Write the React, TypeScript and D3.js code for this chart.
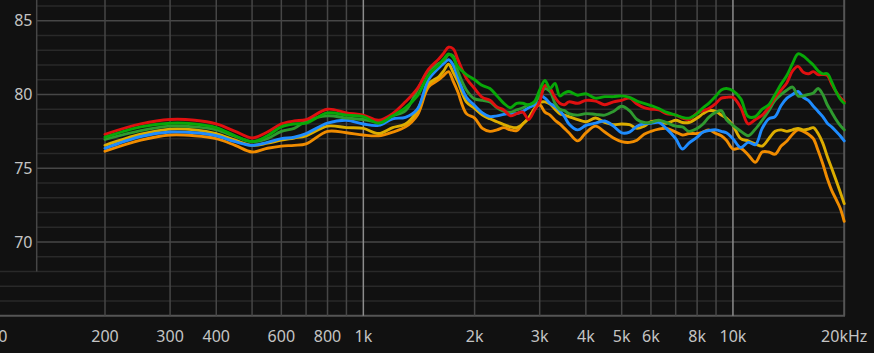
import React from "react";
import * as d3 from "d3";

const FREQS = [
  200, 250, 300, 350, 400, 450, 500, 550, 600, 650, 700, 800, 900, 1000,
  1100, 1200, 1300, 1400, 1500, 1600, 1650, 1700, 1750, 1800, 1900, 2000,
  2100, 2200, 2300, 2400, 2500, 2600, 2700, 2800, 2900, 3000, 3100, 3200, 3300, 3400, 3500, 3600, 3800, 4000,
  4250, 4500, 4750, 5000, 5250, 5500, 5750, 6000, 6300, 6600, 7000, 7300, 7600, 8000, 8300, 8600, 9000, 9300, 9600, 10000,
  10500, 11000, 11500, 12000, 12500, 13000, 13500, 14000, 14500, 15000, 15500, 16000, 16500, 17000, 17500, 18000, 18500, 19000, 19500, 20000,
];

const RED = [
  77.3, 78.0, 78.3, 78.25, 78.0, 77.5, 77.05, 77.45, 78.0, 78.2, 78.3, 79.0, 78.75, 78.6,
  78.25, 78.7, 79.5, 80.4, 81.7, 82.4, 82.8, 83.2, 83.1, 82.4, 81.1, 80.4,
  79.8, 79.6, 79.15, 78.95, 78.55, 78.7, 78.8, 78.3, 78.9, 79.5, 80.6, 80.4, 79.8, 79.4, 79.3, 79.5, 79.4, 79.6,
  79.55, 79.3, 79.5, 79.6, 79.75, 79.35, 79.1, 79.0, 78.95, 78.7, 78.6, 78.4, 78.3, 78.75, 78.9, 79.05, 79.4, 79.75, 79.8, 79.8,
  79.1, 78.0, 78.3, 78.6, 79.1, 79.8, 80.3, 80.8, 81.6, 81.9, 81.5, 81.4, 81.55, 81.35, 81.35, 81.3, 80.7, 80.2, 79.8, 79.5,
];

const GREEN = [
  77.1, 77.8, 78.05, 78.0, 77.75, 77.2, 76.8, 77.2, 77.8, 78.0, 78.05, 78.75, 78.6, 78.5,
  78.05, 78.55, 79.1, 79.9, 81.3, 82.0, 82.4, 82.75, 82.5, 81.9, 81.35, 81.0,
  80.6, 80.4, 79.9, 79.4, 79.1, 79.4, 79.4, 79.3, 79.5, 80.3, 80.95, 80.4, 80.75, 79.9, 80.1, 80.2, 79.95, 80.05,
  79.75, 79.85, 79.85, 79.9, 79.8, 79.55, 79.4, 79.25, 79.05, 78.8, 78.6, 78.45, 78.4, 78.7, 79.1, 79.4, 79.9, 80.3, 80.4, 80.25,
  79.7, 78.5, 78.5, 79.0, 79.3, 80.0, 80.7, 81.3, 82.1, 82.75, 82.6, 82.3, 82.0, 81.6, 81.4, 81.4, 80.85, 80.2, 79.7, 79.4,
];

const DARK_GREEN = [
  76.95, 77.55, 77.85, 77.8, 77.6, 77.15, 76.8, 77.0, 77.5, 77.7, 78.2, 78.55, 78.4, 78.3,
  78.15, 78.55, 78.9, 80.3, 81.6, 82.1, 82.3, 82.7, 82.6, 81.6, 80.3, 79.7,
  79.6, 79.5, 79.1, 78.85, 78.8, 78.95, 79.1, 79.3, 79.45, 79.9, 80.4, 80.2, 79.4, 79.0, 78.9, 78.7, 78.6, 78.7,
  78.65, 78.6, 78.85, 79.2, 78.9, 78.3, 78.1, 78.1, 78.25, 78.1, 77.85, 77.8, 77.5, 77.7, 78.0, 78.45, 78.8, 78.9, 78.3, 77.9,
  77.5, 77.2, 77.65, 78.25, 78.9, 79.6, 80.0, 80.3, 80.5, 79.9, 79.9, 80.0, 80.1, 80.4, 80.0, 79.3, 78.8, 78.3, 77.9, 77.6,
];

const BLUE = [
  76.35, 77.15, 77.45, 77.4, 77.2, 76.8, 76.55, 76.75, 77.0, 77.1, 77.35, 78.05, 78.25, 78.0,
  77.9, 78.35, 78.45, 79.0, 81.0, 81.8, 82.1, 82.35, 82.0, 81.2, 79.8, 79.25,
  78.75, 78.5, 78.55, 78.65, 78.7, 78.7, 78.85, 79.1, 79.3, 79.95, 79.75, 79.4, 79.2, 78.9, 78.5, 78.0, 77.6, 77.9,
  78.05, 78.2, 77.85, 77.4, 77.45, 77.85, 78.0, 78.05, 78.1, 77.7, 77.0, 76.3, 76.7, 77.1, 77.45, 77.55, 77.6, 77.5, 77.4, 77.0,
  76.4, 76.75, 76.6, 77.7, 78.35, 78.5, 79.25, 79.75, 80.0, 80.2, 79.8, 79.6, 79.2, 78.85, 78.5, 78.05, 77.8, 77.5, 77.2, 76.85,
];

const YELLOW = [
  76.55, 77.3, 77.65, 77.6, 77.35, 76.9, 76.55, 76.7, 76.9, 77.05, 77.2, 77.85, 77.75, 77.7,
  77.35, 77.75, 78.0, 78.9, 80.7, 81.2, 81.6, 82.05, 81.5, 80.9, 79.5, 79.05,
  78.6, 78.35, 78.15, 77.95, 77.8, 77.75, 78.0, 78.4, 79.0, 79.45, 79.5, 79.35, 79.0, 78.7, 78.6, 78.5, 78.3, 78.15,
  78.4, 78.1, 77.95, 78.0, 77.95, 77.7, 77.85, 78.15, 78.2, 78.05, 78.25, 78.1, 78.1, 78.4, 78.7, 78.9, 78.85, 78.6, 78.4, 77.9,
  77.0, 76.85, 76.65, 76.5, 77.0, 77.5, 77.6, 77.5, 77.6, 77.7, 77.6, 77.65, 77.75, 77.35, 76.7, 75.8, 75.0, 74.2, 73.4, 72.6,
];

const ORANGE = [
  76.15, 76.9, 77.25, 77.2, 77.0, 76.55, 76.1, 76.35, 76.5, 76.55, 76.65, 77.5, 77.4, 77.25,
  77.2, 77.45, 77.8, 78.6, 80.5, 81.0, 81.3, 81.55, 80.9, 80.2, 78.7, 78.4,
  77.7, 77.5, 77.6, 77.75, 77.6, 77.55, 78.0, 78.4, 79.0, 79.3, 78.8, 78.6, 78.25, 78.0, 77.7, 77.4, 76.85, 77.4,
  77.85, 77.45, 77.05, 76.8, 76.75, 76.9, 77.3, 77.5, 77.65, 77.7, 77.45, 77.25, 77.35, 77.35, 77.45, 77.6, 77.35, 77.2, 76.9, 76.3,
  76.35, 75.9, 75.4, 76.1, 76.1, 75.95, 76.5, 76.85, 77.3, 77.6, 77.5, 77.3, 77.0, 76.2, 75.3, 74.3, 73.5, 72.9, 72.3, 71.4,
];

const X_TICK_VALUES = [100, 200, 300, 400, 600, 800, 1000, 2000, 3000, 4000, 5000, 6000, 8000, 10000, 20000];
const X_TICK_LABELS = ["100", "200", "300", "400", "600", "800", "1k", "2k", "3k", "4k", "5k", "6k", "8k", "10k", "20kHz"];
const Y_TICK_VALUES = [70, 75, 80, 85];

const W = 874;
const H = 353;

export default function App() {
  const x = d3.scaleLog().domain([200, 20000]).range([105, 844.2]);
  const y = d3.scaleLinear().domain([65, 85]).range([315.7, 20.7]);
  const panelRight = 36.7;
  const plotRight = 845;
  const bottom = y(65);

  const series = [
    { values: ORANGE, color: "#f08c00" },
    { values: YELLOW, color: "#dcad00" },
    { values: BLUE, color: "#1e8cff" },
    { values: DARK_GREEN, color: "#2f9a2f" },
    { values: RED, color: "#e01010" },
    { values: GREEN, color: "#08a808" },
  ];

  const line = d3
    .line<number>()
    .x((_, i) => x(FREQS[i]))
    .y((d) => y(d))
    .curve(d3.curveCatmullRom.alpha(0.5));

  const dbLines = d3.range(65, 87);
  const vLines: number[] = [];
  [100, 1000, 10000].forEach((dec) => {
    for (let m = 1; m <= 9; m++) {
      const f = dec * m;
      if (f >= 200 && f <= 20000) vLines.push(f);
    }
  });

  const font = "'Noto Sans', 'Open Sans', sans-serif";

  return (
    <svg
      width={W}
      height={H}
      style={{ position: "absolute", left: 0, top: 0, display: "block", background: "#111111" }}
    >
      <rect x={0} y={0} width={W} height={H} fill="#111111" />
      {dbLines.map((db) => {
        const yy = y(db);
        const major = db % 5 === 0;
        const color = db === 65 ? "#555555" : major ? "#474747" : "#292929";
        return (
          <line
            key={"h" + db}
            x1={db <= 68 ? 0 : panelRight}
            x2={plotRight}
            y1={yy}
            y2={yy}
            stroke={color}
            strokeWidth={db === 65 ? 2 : 1.4}
          />
        );
      })}
      {vLines.map((f) => {
        const xx = x(f);
        const bright = f === 1000 || f === 10000;
        return (
          <line
            key={"v" + f}
            x1={xx}
            x2={xx}
            y1={0}
            y2={bottom}
            stroke={bright ? "#8c8c8c" : f === 20000 ? "#555555" : "#464646"}
            strokeWidth={f === 20000 ? 2 : 1.5}
          />
        );
      })}
      <line x1={panelRight} x2={panelRight} y1={0} y2={y(68)} stroke="#464646" strokeWidth={1.5} />

      {series.map((s, i) => (
        <path
          key={"s" + i}
          d={line(s.values) || ""}
          fill="none"
          stroke={s.color}
          strokeWidth={2.9}
          strokeLinejoin="round"
          strokeLinecap="round"
        />
      ))}

      {Y_TICK_VALUES.map((v) => (
        <text
          key={"yl" + v}
          x={32.5}
          y={y(v) + 5.6}
          textAnchor="end"
          fill="#c4c4c4"
          fontSize={16}
          fontFamily={font}
        >
          {v}
        </text>
      ))}
      {X_TICK_VALUES.map((f, i) => (
        <text
          key={"xl" + f}
          x={x(f)}
          y={342}
          textAnchor="middle"
          fill="#c4c4c4"
          fontSize={16}
          fontFamily={font}
        >
          {X_TICK_LABELS[i]}
        </text>
      ))}
    </svg>
  );
}
